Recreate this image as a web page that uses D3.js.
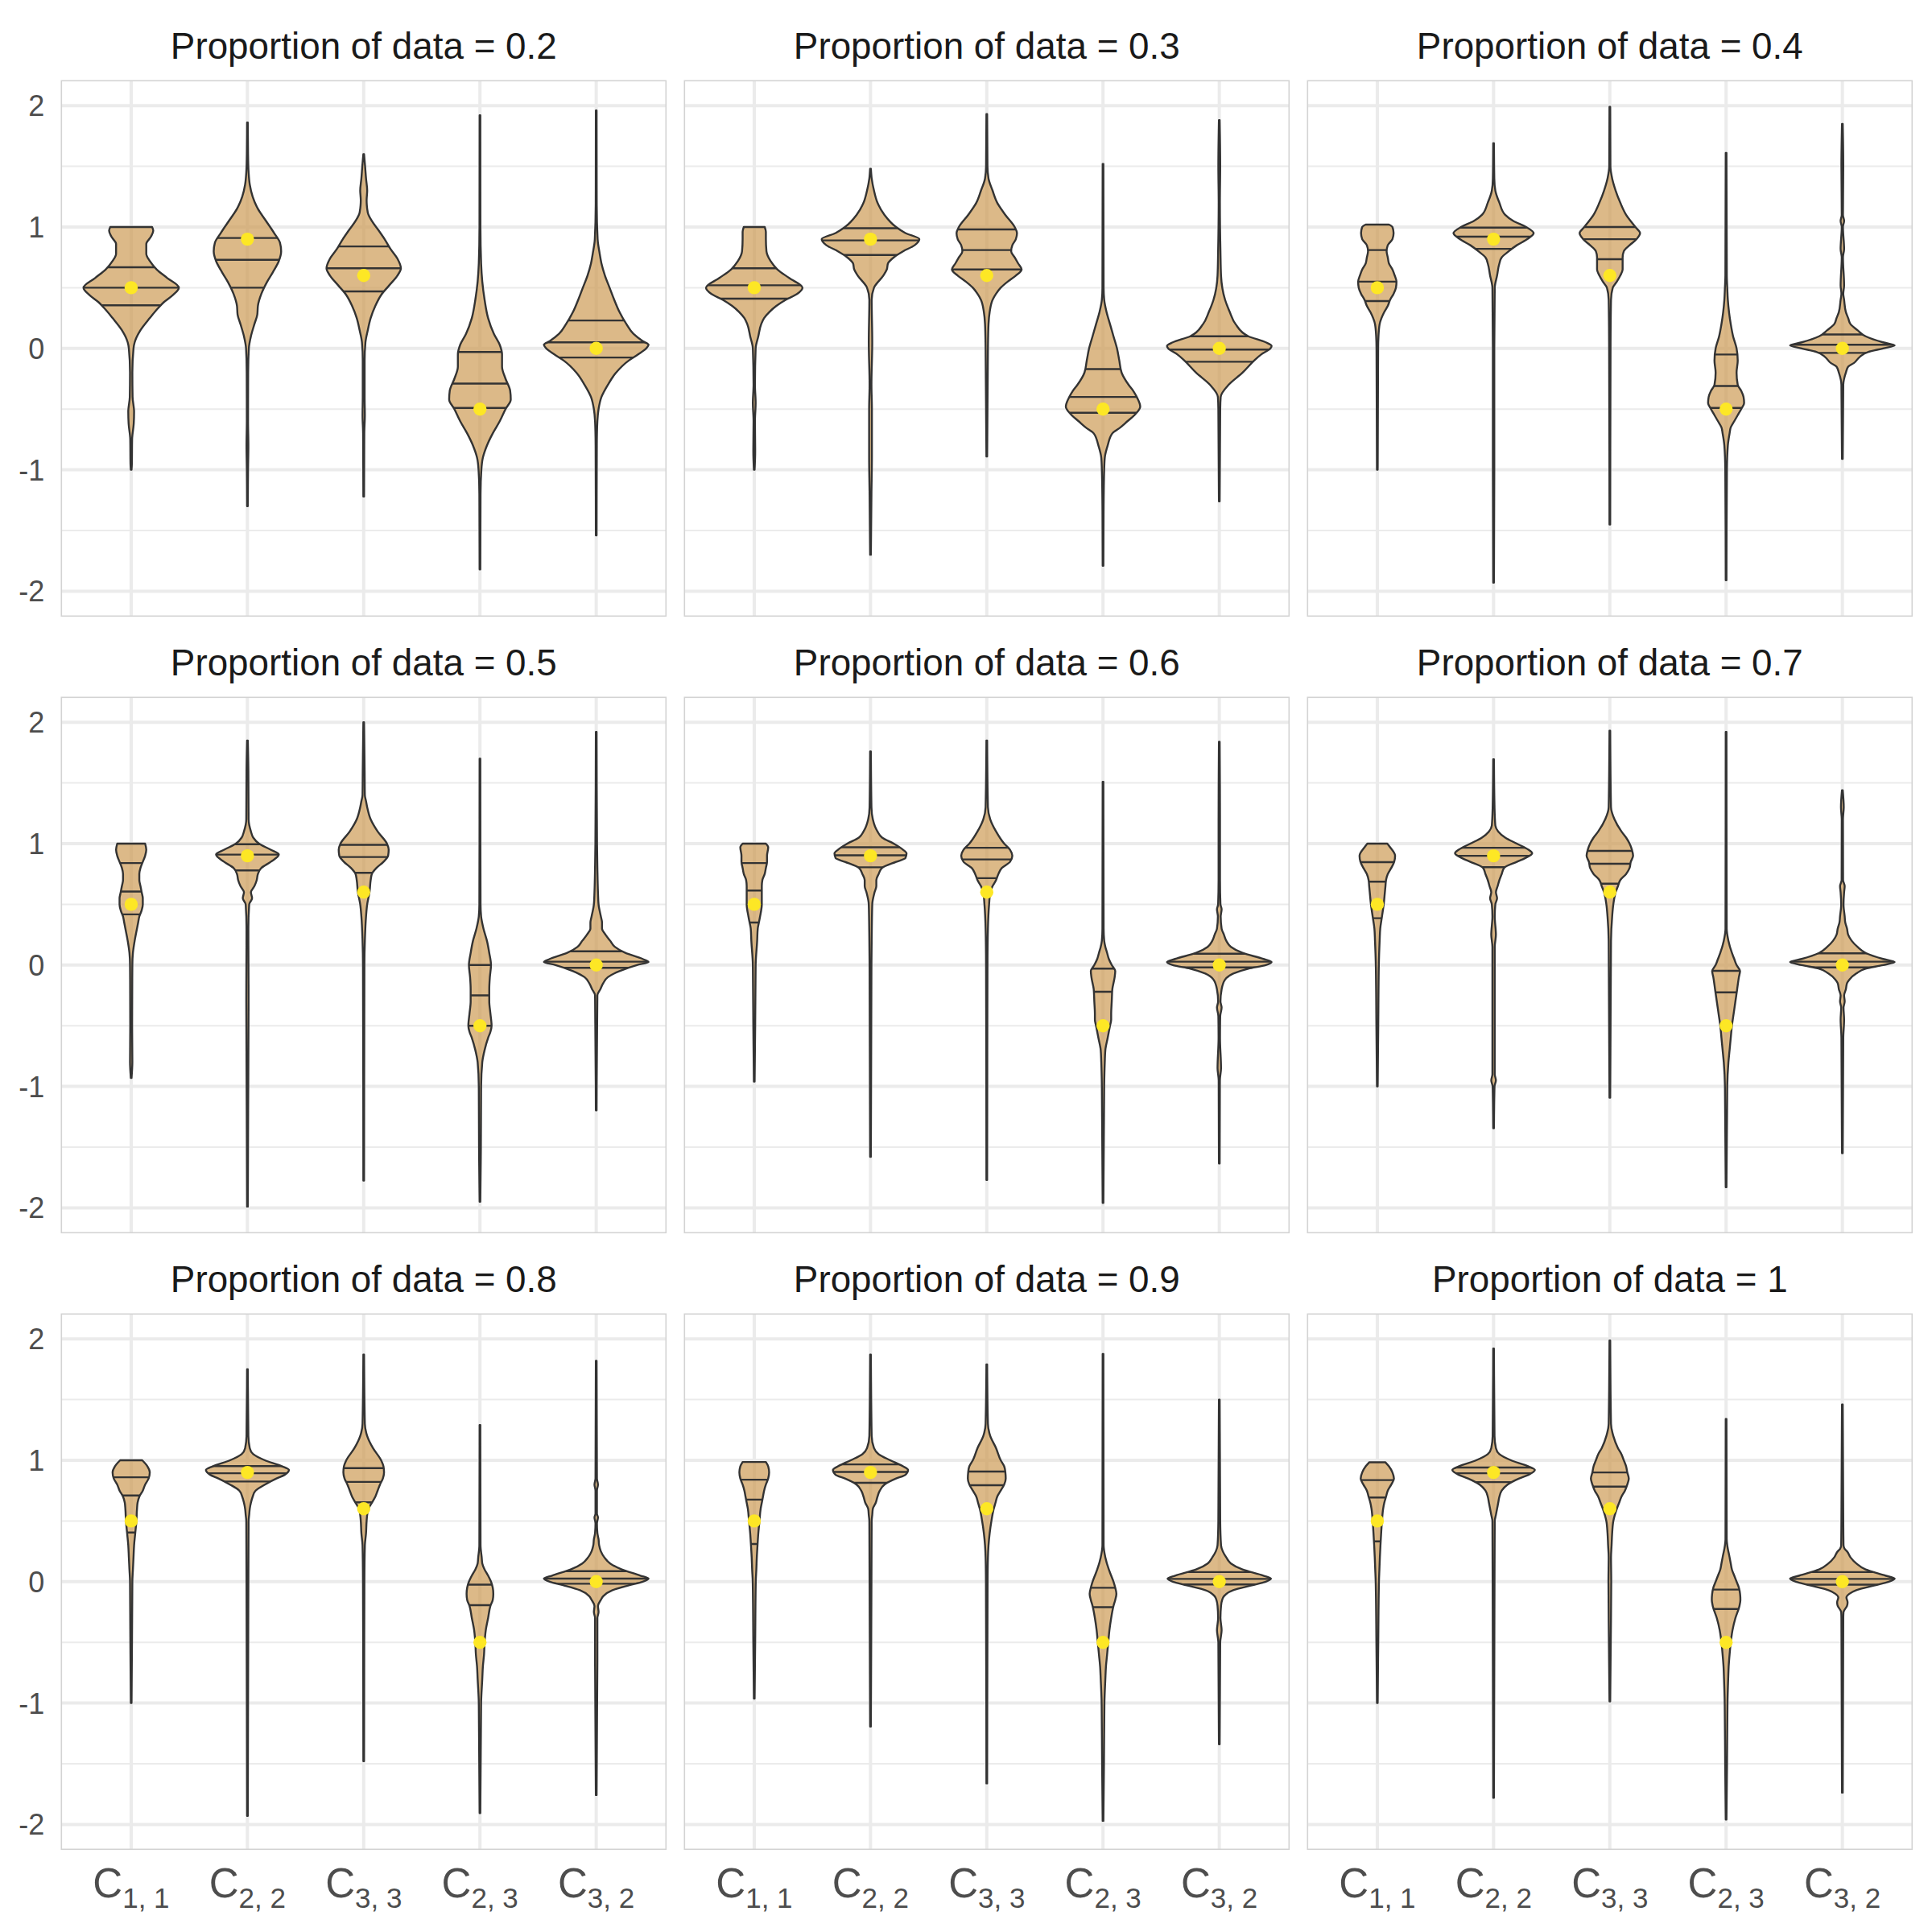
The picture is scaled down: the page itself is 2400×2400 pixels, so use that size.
<!DOCTYPE html>
<html><head><meta charset="utf-8">
<script src="https://cdn.jsdelivr.net/npm/d3@7"></script>
<style>body{margin:0;background:#fff}svg{display:block}</style>
</head><body>
<script>
// ---------------- data ----------------
const proportions = [0.2, 0.3, 0.4, 0.5, 0.6, 0.7, 0.8, 0.9, 1];
const categories = ["C11", "C22", "C33", "C23", "C32"];
const labelMain = ["C", "C", "C", "C", "C"];
const labelSub = ["1, 1", "2, 2", "3, 3", "2, 3", "3, 2"];
const trueValues = [0.5, 0.9, 0.6, -0.5, 0];
const yTicks = [-2, -1, 0, 1, 2];
const yMinor = [-1.5, -0.5, 0.5, 1.5];

// violin profiles: [value, half-width (in category units)], top to bottom
const shape_02 = [
  [[1.0,0.18],[0.97,0.19],[0.92,0.17],[0.86,0.13],[0.78,0.13],[0.72,0.16],[0.65,0.22],[0.58,0.31],[0.5,0.41],[0.44,0.36],[0.38,0.28],[0.33,0.23],[0.25,0.16],[0.15,0.08],[0.05,0.03],[0,0.02],[-0.2,0.01],[-0.4,0.012],[-0.52,0.025],[-0.62,0.022],[-0.75,0.008],[-0.95,0.006],[-1.0,0.003]],
  [[1.86,0.003],[1.6,0.005],[1.45,0.01],[1.35,0.02],[1.25,0.045],[1.15,0.09],[1.05,0.16],[0.95,0.23],[0.87,0.28],[0.8,0.29],[0.72,0.27],[0.63,0.22],[0.55,0.17],[0.45,0.12],[0.35,0.09],[0.28,0.085],[0.2,0.06],[0.1,0.03],[0,0.012],[-0.2,0.006],[-0.6,0.005],[-0.8,0.008],[-1.0,0.005],[-1.3,0.003]],
  [[1.6,0.003],[1.5,0.012],[1.4,0.02],[1.3,0.03],[1.22,0.025],[1.12,0.035],[1.05,0.07],[0.97,0.13],[0.9,0.18],[0.82,0.23],[0.74,0.29],[0.66,0.32],[0.6,0.29],[0.52,0.22],[0.44,0.15],[0.35,0.1],[0.25,0.06],[0.15,0.035],[0.05,0.015],[-0.1,0.008],[-0.4,0.008],[-0.55,0.01],[-0.7,0.005],[-1.22,0.003]],
  [[1.92,0.003],[1.0,0.004],[0.7,0.01],[0.55,0.02],[0.4,0.04],[0.25,0.07],[0.12,0.12],[0.03,0.17],[-0.05,0.19],[-0.15,0.19],[-0.25,0.22],[-0.35,0.26],[-0.42,0.265],[-0.5,0.22],[-0.6,0.17],[-0.7,0.11],[-0.8,0.06],[-0.9,0.025],[-1.0,0.012],[-1.2,0.005],[-1.82,0.003]],
  [[1.96,0.003],[1.2,0.004],[0.9,0.012],[0.78,0.03],[0.7,0.045],[0.6,0.075],[0.5,0.115],[0.4,0.155],[0.3,0.2],[0.2,0.26],[0.12,0.32],[0.06,0.4],[0.03,0.45],[0,0.43],[-0.05,0.36],[-0.1,0.28],[-0.2,0.17],[-0.3,0.1],[-0.4,0.045],[-0.5,0.02],[-0.6,0.01],[-0.8,0.005],[-1.54,0.003]]
];
const shape_03 = [
  [[1.0,0.09],[0.96,0.1],[0.9,0.1],[0.8,0.105],[0.72,0.14],[0.65,0.2],[0.58,0.3],[0.5,0.415],[0.45,0.37],[0.4,0.27],[0.35,0.19],[0.3,0.13],[0.25,0.085],[0.2,0.06],[0.1,0.035],[0,0.012],[-0.3,0.006],[-0.45,0.012],[-0.6,0.006],[-0.85,0.008],[-1.0,0.003]],
  [[1.48,0.003],[1.4,0.01],[1.3,0.03],[1.2,0.06],[1.1,0.12],[1.0,0.22],[0.95,0.3],[0.9,0.42],[0.85,0.38],[0.8,0.28],[0.75,0.2],[0.7,0.15],[0.65,0.14],[0.6,0.11],[0.5,0.03],[0.4,0.01],[0.05,0.015],[-0.3,0.008],[-0.5,0.012],[-0.9,0.012],[-1.2,0.008],[-1.7,0.003]],
  [[1.93,0.003],[1.5,0.006],[1.4,0.015],[1.3,0.05],[1.2,0.09],[1.1,0.16],[1.0,0.24],[0.95,0.26],[0.9,0.25],[0.85,0.22],[0.8,0.21],[0.75,0.24],[0.7,0.27],[0.65,0.3],[0.6,0.25],[0.55,0.18],[0.5,0.12],[0.45,0.08],[0.4,0.05],[0.3,0.025],[0.2,0.015],[0,0.01],[-0.5,0.006],[-0.89,0.003]],
  [[1.52,0.003],[0.5,0.005],[0.4,0.01],[0.3,0.03],[0.2,0.06],[0.1,0.09],[0,0.12],[-0.1,0.14],[-0.2,0.16],[-0.3,0.22],[-0.35,0.26],[-0.4,0.29],[-0.48,0.32],[-0.55,0.27],[-0.6,0.21],[-0.65,0.15],[-0.7,0.08],[-0.8,0.04],[-0.9,0.015],[-1.0,0.01],[-1.3,0.005],[-1.79,0.003]],
  [[1.88,0.003],[1.5,0.008],[1.2,0.005],[0.8,0.01],[0.6,0.015],[0.4,0.05],[0.3,0.09],[0.2,0.14],[0.1,0.25],[0.05,0.4],[0.02,0.45],[0,0.44],[-0.05,0.36],[-0.1,0.3],[-0.2,0.2],[-0.3,0.08],[-0.4,0.012],[-0.5,0.008],[-1.26,0.003]]
];
const shape_04 = [
  [[1.02,0.1],[1.0,0.13],[0.95,0.14],[0.9,0.13],[0.85,0.09],[0.8,0.08],[0.75,0.09],[0.7,0.1],[0.65,0.13],[0.6,0.15],[0.55,0.165],[0.5,0.16],[0.45,0.14],[0.4,0.11],[0.35,0.09],[0.3,0.06],[0.2,0.02],[0.1,0.01],[0,0.007],[-0.5,0.005],[-1.0,0.003]],
  [[1.69,0.003],[1.4,0.006],[1.3,0.015],[1.2,0.05],[1.1,0.1],[1.05,0.17],[1.0,0.28],[0.95,0.345],[0.9,0.29],[0.85,0.2],[0.8,0.13],[0.75,0.07],[0.7,0.05],[0.6,0.03],[0.5,0.01],[0,0.006],[-1.0,0.006],[-1.93,0.003]],
  [[1.99,0.003],[1.5,0.005],[1.4,0.02],[1.3,0.05],[1.2,0.09],[1.1,0.14],[1.0,0.22],[0.95,0.26],[0.9,0.23],[0.85,0.17],[0.8,0.12],[0.75,0.11],[0.7,0.11],[0.65,0.11],[0.6,0.09],[0.55,0.06],[0.5,0.025],[0.4,0.01],[0,0.006],[-1.45,0.003]],
  [[1.61,0.003],[0.6,0.006],[0.5,0.01],[0.4,0.015],[0.3,0.025],[0.2,0.04],[0.1,0.06],[0,0.09],[-0.1,0.1],[-0.2,0.09],[-0.3,0.1],[-0.35,0.13],[-0.4,0.15],[-0.45,0.155],[-0.5,0.13],[-0.55,0.1],[-0.6,0.07],[-0.65,0.04],[-0.7,0.03],[-0.8,0.015],[-1.0,0.007],[-1.91,0.003]],
  [[1.85,0.003],[1.5,0.008],[1.1,0.005],[1.05,0.015],[1.0,0.005],[0.82,0.015],[0.75,0.005],[0.52,0.015],[0.45,0.008],[0.4,0.015],[0.3,0.03],[0.25,0.05],[0.2,0.07],[0.15,0.13],[0.1,0.2],[0.05,0.35],[0.025,0.45],[0,0.35],[-0.03,0.22],[-0.07,0.15],[-0.12,0.1],[-0.15,0.05],[-0.2,0.03],[-0.3,0.008],[-0.91,0.003]]
];
const shape_05 = [
  [[1.0,0.12],[0.95,0.13],[0.9,0.12],[0.85,0.1],[0.8,0.08],[0.75,0.07],[0.7,0.07],[0.65,0.08],[0.6,0.09],[0.55,0.1],[0.5,0.1],[0.45,0.09],[0.4,0.07],[0.35,0.06],[0.3,0.05],[0.2,0.03],[0.1,0.015],[0,0.01],[-0.5,0.008],[-0.8,0.01],[-0.93,0.003]],
  [[1.85,0.003],[1.6,0.008],[1.2,0.01],[1.1,0.03],[1.05,0.05],[1.0,0.1],[0.95,0.2],[0.91,0.27],[0.85,0.2],[0.8,0.12],[0.75,0.09],[0.7,0.08],[0.65,0.06],[0.6,0.03],[0.55,0.04],[0.5,0.015],[0.3,0.008],[-0.3,0.01],[-1.2,0.006],[-1.99,0.003]],
  [[2.0,0.003],[1.6,0.008],[1.4,0.01],[1.35,0.02],[1.3,0.03],[1.2,0.06],[1.1,0.12],[1.0,0.2],[0.95,0.215],[0.9,0.21],[0.85,0.17],[0.8,0.11],[0.75,0.07],[0.7,0.06],[0.6,0.05],[0.5,0.03],[0.4,0.02],[0.2,0.01],[0,0.006],[-1.775,0.003]],
  [[1.7,0.003],[0.5,0.005],[0.4,0.01],[0.3,0.03],[0.2,0.06],[0.1,0.08],[0,0.095],[-0.1,0.085],[-0.2,0.08],[-0.3,0.08],[-0.4,0.09],[-0.5,0.1],[-0.55,0.09],[-0.6,0.07],[-0.7,0.04],[-0.8,0.02],[-1.0,0.01],[-1.5,0.008],[-1.95,0.003]],
  [[1.92,0.003],[1.0,0.007],[0.8,0.01],[0.6,0.015],[0.5,0.02],[0.4,0.04],[0.35,0.05],[0.3,0.05],[0.25,0.08],[0.2,0.12],[0.15,0.16],[0.1,0.25],[0.05,0.4],[0.025,0.45],[0,0.35],[-0.05,0.2],[-0.1,0.1],[-0.15,0.06],[-0.2,0.035],[-0.25,0.01],[-1.197,0.003]]
];
const shape_06 = [
  [[1.0,0.1],[0.97,0.12],[0.9,0.11],[0.85,0.11],[0.8,0.1],[0.75,0.09],[0.7,0.07],[0.65,0.065],[0.6,0.065],[0.5,0.065],[0.4,0.05],[0.35,0.04],[0.3,0.03],[0.2,0.025],[0,0.012],[-0.5,0.008],[-0.96,0.003]],
  [[1.76,0.003],[1.3,0.008],[1.2,0.02],[1.1,0.06],[1.05,0.1],[1.0,0.2],[0.95,0.28],[0.92,0.31],[0.88,0.3],[0.85,0.22],[0.8,0.1],[0.75,0.07],[0.7,0.05],[0.65,0.05],[0.6,0.035],[0.5,0.015],[0.2,0.01],[0,0.008],[-1.58,0.003]],
  [[1.85,0.003],[1.3,0.01],[1.2,0.03],[1.1,0.08],[1.0,0.15],[0.95,0.2],[0.9,0.22],[0.85,0.2],[0.8,0.13],[0.75,0.1],[0.7,0.08],[0.65,0.05],[0.6,0.03],[0.5,0.02],[0.3,0.01],[0,0.006],[-1.77,0.003]],
  [[1.51,0.003],[0.3,0.005],[0.2,0.01],[0.15,0.02],[0.1,0.035],[0.05,0.05],[0,0.075],[-0.05,0.105],[-0.1,0.1],[-0.2,0.08],[-0.3,0.075],[-0.4,0.07],[-0.45,0.07],[-0.5,0.06],[-0.6,0.04],[-0.7,0.02],[-0.8,0.015],[-1.0,0.01],[-1.96,0.003]],
  [[1.84,0.003],[1.2,0.006],[0.7,0.006],[0.5,0.01],[0.46,0.02],[0.4,0.012],[0.3,0.02],[0.25,0.04],[0.2,0.06],[0.15,0.1],[0.1,0.2],[0.05,0.38],[0.025,0.45],[0,0.4],[-0.03,0.25],[-0.07,0.12],[-0.12,0.05],[-0.2,0.02],[-0.3,0.01],[-0.35,0.02],[-0.42,0.008],[-0.6,0.006],[-0.85,0.015],[-0.95,0.005],[-1.634,0.003]]
];
const shape_07 = [
  [[1.0,0.086],[0.97,0.11],[0.9,0.153],[0.85,0.145],[0.8,0.12],[0.75,0.09],[0.7,0.075],[0.65,0.07],[0.6,0.065],[0.5,0.055],[0.4,0.04],[0.3,0.025],[0.2,0.02],[0,0.013],[-0.5,0.008],[-1.0,0.003]],
  [[1.695,0.003],[1.3,0.008],[1.15,0.015],[1.1,0.04],[1.05,0.1],[1.0,0.2],[0.95,0.3],[0.92,0.332],[0.88,0.27],[0.85,0.2],[0.8,0.09],[0.75,0.07],[0.7,0.05],[0.65,0.035],[0.6,0.02],[0.55,0.03],[0.5,0.015],[0.4,0.01],[0.25,0.02],[0.15,0.01],[-0.5,0.01],[-0.9,0.01],[-0.95,0.02],[-1.0,0.008],[-1.344,0.003]],
  [[1.93,0.003],[1.3,0.01],[1.2,0.04],[1.1,0.1],[1.05,0.14],[1.0,0.17],[0.95,0.19],[0.9,0.2],[0.85,0.18],[0.8,0.17],[0.75,0.14],[0.7,0.09],[0.65,0.07],[0.6,0.05],[0.5,0.03],[0.4,0.02],[0.2,0.01],[-1.093,0.003]],
  [[1.92,0.003],[0.3,0.005],[0.2,0.02],[0.1,0.05],[0.05,0.07],[0,0.09],[-0.05,0.12],[-0.1,0.11],[-0.2,0.095],[-0.3,0.08],[-0.4,0.065],[-0.5,0.05],[-0.6,0.04],[-0.7,0.03],[-0.8,0.02],[-1.0,0.01],[-1.83,0.003]],
  [[1.44,0.003],[1.3,0.012],[1.2,0.005],[0.7,0.006],[0.65,0.02],[0.6,0.015],[0.5,0.01],[0.4,0.02],[0.35,0.025],[0.3,0.04],[0.25,0.05],[0.2,0.08],[0.15,0.13],[0.1,0.2],[0.05,0.35],[0.025,0.45],[0,0.35],[-0.03,0.2],[-0.07,0.12],[-0.12,0.06],[-0.15,0.04],[-0.2,0.03],[-0.25,0.015],[-0.3,0.02],[-0.35,0.01],[-0.45,0.015],[-0.6,0.008],[-1.55,0.003]]
];
const shape_08 = [
  [[1.0,0.095],[0.95,0.14],[0.9,0.16],[0.85,0.15],[0.8,0.12],[0.75,0.1],[0.7,0.07],[0.65,0.055],[0.6,0.05],[0.5,0.045],[0.4,0.035],[0.3,0.025],[0.2,0.02],[0.1,0.015],[0,0.01],[-0.5,0.007],[-1.0,0.003]],
  [[1.75,0.003],[1.2,0.008],[1.1,0.02],[1.05,0.05],[1.0,0.15],[0.95,0.3],[0.92,0.357],[0.88,0.32],[0.85,0.25],[0.8,0.15],[0.75,0.07],[0.7,0.045],[0.65,0.03],[0.6,0.02],[0.55,0.015],[0.5,0.01],[0,0.008],[-1.93,0.003]],
  [[1.87,0.003],[1.3,0.01],[1.2,0.03],[1.1,0.08],[1.0,0.15],[0.95,0.17],[0.9,0.175],[0.85,0.165],[0.8,0.14],[0.75,0.12],[0.7,0.1],[0.65,0.07],[0.6,0.04],[0.55,0.03],[0.5,0.025],[0.4,0.02],[0.3,0.01],[0,0.006],[-1.479,0.003]],
  [[1.29,0.003],[0.3,0.005],[0.2,0.015],[0.15,0.02],[0.1,0.04],[0.05,0.07],[0,0.095],[-0.05,0.11],[-0.1,0.115],[-0.15,0.11],[-0.2,0.09],[-0.3,0.07],[-0.4,0.05],[-0.5,0.04],[-0.6,0.035],[-0.7,0.025],[-0.8,0.02],[-1.0,0.01],[-1.907,0.003]],
  [[1.82,0.003],[0.85,0.006],[0.8,0.015],[0.75,0.006],[0.56,0.006],[0.53,0.015],[0.48,0.006],[0.4,0.01],[0.35,0.02],[0.3,0.025],[0.25,0.04],[0.2,0.07],[0.15,0.12],[0.1,0.22],[0.05,0.38],[0.025,0.45],[0,0.4],[-0.03,0.28],[-0.07,0.14],[-0.12,0.06],[-0.15,0.04],[-0.2,0.015],[-0.25,0.02],[-0.3,0.01],[-0.65,0.01],[-1.758,0.003]]
];
const shape_09 = [
  [[0.986,0.1],[0.95,0.12],[0.9,0.128],[0.85,0.12],[0.8,0.1],[0.75,0.085],[0.7,0.075],[0.65,0.065],[0.6,0.055],[0.5,0.045],[0.4,0.035],[0.3,0.028],[0.2,0.022],[0.1,0.018],[0,0.013],[-0.5,0.008],[-0.963,0.003]],
  [[1.87,0.003],[1.2,0.01],[1.1,0.03],[1.05,0.07],[1.0,0.17],[0.95,0.28],[0.92,0.323],[0.88,0.3],[0.85,0.22],[0.8,0.12],[0.75,0.08],[0.7,0.06],[0.65,0.045],[0.6,0.02],[0.55,0.015],[0.5,0.01],[0,0.008],[-1.194,0.003]],
  [[1.79,0.003],[1.3,0.01],[1.2,0.03],[1.1,0.08],[1.0,0.12],[0.95,0.15],[0.9,0.16],[0.85,0.163],[0.8,0.15],[0.75,0.12],[0.7,0.09],[0.65,0.075],[0.6,0.06],[0.5,0.04],[0.4,0.025],[0.3,0.015],[0.2,0.01],[0,0.007],[-1.662,0.003]],
  [[1.876,0.003],[0.3,0.005],[0.2,0.02],[0.1,0.05],[0.05,0.07],[0,0.09],[-0.05,0.105],[-0.1,0.115],[-0.15,0.105],[-0.2,0.09],[-0.3,0.07],[-0.4,0.055],[-0.5,0.045],[-0.6,0.035],[-0.7,0.025],[-0.8,0.02],[-1.0,0.012],[-1.5,0.008],[-1.97,0.003]],
  [[1.5,0.003],[0.5,0.008],[0.3,0.015],[0.25,0.03],[0.2,0.06],[0.15,0.1],[0.1,0.2],[0.05,0.38],[0.025,0.445],[0,0.4],[-0.03,0.28],[-0.07,0.12],[-0.12,0.04],[-0.15,0.025],[-0.2,0.015],[-0.3,0.01],[-0.4,0.02],[-0.5,0.008],[-1.34,0.003]]
];
const shape_10 = [
  [[0.983,0.07],[0.95,0.1],[0.9,0.13],[0.85,0.143],[0.8,0.12],[0.75,0.09],[0.7,0.075],[0.65,0.06],[0.6,0.05],[0.5,0.04],[0.4,0.033],[0.3,0.027],[0.2,0.022],[0.1,0.018],[0,0.014],[-0.5,0.008],[-1.0,0.003]],
  [[1.92,0.003],[1.2,0.008],[1.1,0.02],[1.05,0.05],[1.0,0.15],[0.95,0.3],[0.92,0.355],[0.88,0.3],[0.85,0.22],[0.8,0.12],[0.75,0.07],[0.7,0.05],[0.65,0.04],[0.6,0.03],[0.55,0.02],[0.5,0.01],[0,0.008],[-1.78,0.003]],
  [[1.986,0.003],[1.3,0.01],[1.2,0.03],[1.1,0.07],[1.05,0.1],[1.0,0.12],[0.95,0.14],[0.9,0.15],[0.85,0.163],[0.8,0.15],[0.75,0.13],[0.7,0.1],[0.65,0.08],[0.6,0.06],[0.5,0.03],[0.4,0.02],[0.3,0.015],[0.2,0.01],[0,0.012],[-0.5,0.008],[-0.986,0.003]],
  [[1.34,0.003],[0.35,0.005],[0.3,0.01],[0.2,0.03],[0.15,0.04],[0.1,0.05],[0.05,0.07],[0,0.09],[-0.05,0.11],[-0.1,0.12],[-0.15,0.123],[-0.2,0.115],[-0.3,0.08],[-0.4,0.055],[-0.5,0.04],[-0.6,0.03],[-0.7,0.022],[-0.8,0.018],[-1.0,0.012],[-1.5,0.008],[-1.96,0.003]],
  [[1.46,0.003],[0.5,0.008],[0.3,0.01],[0.27,0.02],[0.25,0.04],[0.2,0.07],[0.15,0.12],[0.1,0.2],[0.05,0.37],[0.025,0.45],[0,0.4],[-0.03,0.28],[-0.07,0.12],[-0.1,0.06],[-0.13,0.035],[-0.17,0.045],[-0.2,0.04],[-0.23,0.02],[-0.25,0.01],[-0.3,0.008],[-1.738,0.003]]
];

// quartiles (25%, 50%, 75%) per violin
const quant_02 = [[0.355,0.5,0.668],[0.5,0.73,0.91],[0.47,0.66,0.84],[-0.49,-0.29,-0.03],[-0.075,0.05,0.23]];
const quant_03 = [[0.41,0.52,0.66],[0.77,0.89,0.99],[0.65,0.81,0.98],[-0.53,-0.4,-0.17],[-0.11,-0.01,0.1]];
const quant_04 = [[0.39,0.55,0.81],[0.82,0.92,0.995],[0.735,0.9,1.0],[-0.49,-0.31,-0.05],[-0.037,0.03,0.115]];
const quant_05 = [[0.417,0.605,0.84],[0.78,0.91,0.995],[0.76,0.89,0.99],[-0.5,-0.25,0.0],[-0.023,0.028,0.113]];
const quant_06 = [[0.35,0.614,0.84],[0.805,0.904,0.97],[0.716,0.87,0.966],[-0.5,-0.22,-0.03],[-0.02,0.028,0.093]];
const quant_07 = [[0.386,0.687,0.848],[0.806,0.9,0.966],[0.67,0.834,0.94],[-0.5,-0.225,-0.048],[-0.02,0.028,0.096]];
const quant_08 = [[0.405,0.71,0.86],[0.825,0.893,0.952],[0.654,0.822,0.935],[-0.5,-0.194,-0.025],[-0.017,0.025,0.087]];
const quant_09 = [[0.31,0.676,0.84],[0.814,0.904,0.966],[0.6,0.794,0.907],[-0.5,-0.21,-0.05],[-0.023,0.023,0.079]];
const quant_10 = [[0.332,0.693,0.837],[0.82,0.893,0.94],[0.6,0.783,0.9],[-0.5,-0.225,-0.065],[-0.025,0.023,0.079]];

const shapes = [shape_02, shape_03, shape_04, shape_05, shape_06, shape_07, shape_08, shape_09, shape_10];
const quants = [quant_02, quant_03, quant_04, quant_05, quant_06, quant_07, quant_08, quant_09, quant_10];

// ---------------- layout ----------------
const W = 2400, H = 2400;
const panelX = [76.3, 850.3, 1624.3];
const panelY = [100.3, 866.3, 1632.3];
const panelW = 751, panelH = 665;
const FONT = "'Liberation Sans', Arial, Helvetica, sans-serif";

const svg = d3.select("body").append("svg").attr("width", W).attr("height", H)
  .style("background", "#fff");
const defs = svg.append("defs");

const y = d3.scaleLinear().domain([-2.205, 2.205]).range([panelH, 0]);
const x = d3.scalePoint().domain(categories).range([0, panelW]).padding(0.6);
const step = x.step();

proportions.forEach((prop, pi) => {
  const col = pi % 3, row = Math.floor(pi / 3);
  const g = svg.append("g").attr("transform", `translate(${panelX[col]},${panelY[row]})`);

  // grid
  g.selectAll(".minor").data(yMinor).join("line")
    .attr("x1", 0).attr("x2", panelW).attr("y1", d => y(d)).attr("y2", d => y(d))
    .attr("stroke", "#EBEBEB").attr("stroke-width", 2);
  g.selectAll(".majorY").data(yTicks).join("line")
    .attr("x1", 0).attr("x2", panelW).attr("y1", d => y(d)).attr("y2", d => y(d))
    .attr("stroke", "#EBEBEB").attr("stroke-width", 4);
  g.selectAll(".majorX").data(categories).join("line")
    .attr("x1", d => x(d)).attr("x2", d => x(d)).attr("y1", 0).attr("y2", panelH)
    .attr("stroke", "#EBEBEB").attr("stroke-width", 4);

  // violins
  categories.forEach((cat, ci) => {
    const cx = x(cat);
    const prof = shapes[pi][ci];
    const area = d3.area().curve(d3.curveMonotoneY)
      .y(d => y(d[0]))
      .x0(d => cx - d[1] * step)
      .x1(d => cx + d[1] * step);
    const dPath = area(prof);
    const cid = `clip-${pi}-${ci}`;
    defs.append("clipPath").attr("id", cid).attr("clipPathUnits", "userSpaceOnUse")
      .append("path").attr("d", dPath);
    g.append("path").attr("d", dPath)
      .attr("fill", "rgb(205,155,86)").attr("fill-opacity", 0.7).attr("stroke", "none");
    g.append("g").attr("clip-path", `url(#${cid})`)
      .selectAll("line").data(quants[pi][ci]).join("line")
      .attr("x1", cx - 0.5 * step).attr("x2", cx + 0.5 * step)
      .attr("y1", d => y(d)).attr("y2", d => y(d))
      .attr("stroke", "#333333").attr("stroke-width", 2.4);
    g.append("path").attr("d", dPath)
      .attr("fill", "none").attr("stroke", "#333333").attr("stroke-width", 2.4)
      .attr("stroke-linejoin", "round");
  });

  // true values
  g.selectAll(".pt").data(categories).join("circle")
    .attr("cx", d => x(d)).attr("cy", (d, i) => y(trueValues[i])).attr("r", 8.2)
    .attr("fill", "#FDE725");

  // border
  g.append("rect").attr("x", 0).attr("y", 0).attr("width", panelW).attr("height", panelH)
    .attr("fill", "none").attr("stroke", "#D3D3D3").attr("stroke-width", 1.6);

  // title
  g.append("text").attr("x", panelW / 2).attr("y", -27)
    .attr("text-anchor", "middle").attr("font-family", FONT).attr("font-size", 45.8)
    .attr("fill", "#1A1A1A").text(`Proportion of data = ${prop}`);

  // y axis labels
  if (col === 0) {
    g.selectAll(".yl").data(yTicks).join("text")
      .attr("x", -21).attr("y", d => y(d) + 13)
      .attr("text-anchor", "end").attr("font-family", FONT).attr("font-size", 36)
      .attr("fill", "#4D4D4D").text(d => String(d));
  }
  // x axis labels
  if (row === 2) {
    categories.forEach((cat, ci) => {
      const t = g.append("text").attr("x", x(cat)).attr("y", panelH + 59.4)
        .attr("text-anchor", "middle").attr("font-family", FONT).attr("fill", "#4D4D4D");
      t.append("tspan").attr("font-size", 51).text(labelMain[ci]);
      t.append("tspan").attr("font-size", 35).attr("dy", 13.5).text(labelSub[ci]);
    });
  }
});
</script>
</body></html>
